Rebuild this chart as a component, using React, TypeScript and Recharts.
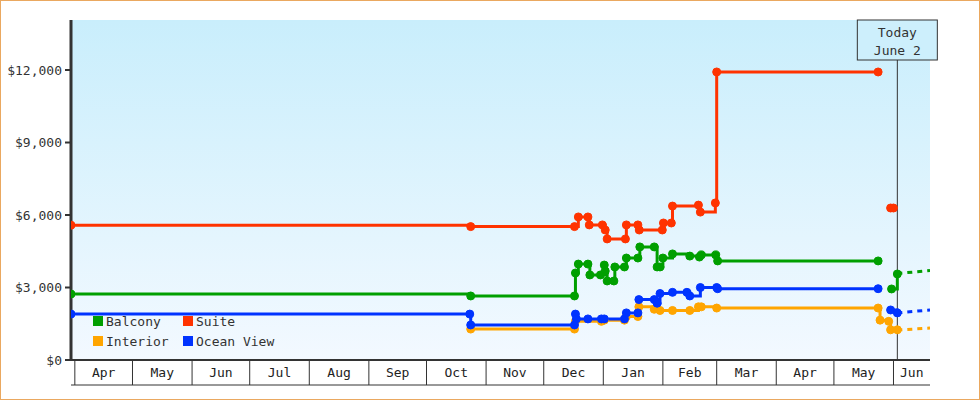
import { CartesianGrid, Legend, Line, LineChart, ReferenceLine, XAxis, YAxis } from "recharts";

// days counted from April 1st
const monthStarts = [0, 30, 61, 91, 122, 153, 183, 214, 244, 275, 306, 334, 365, 395, 426];
const monthLabels = ["Apr", "May", "Jun", "Jul", "Aug", "Sep", "Oct", "Nov", "Dec", "Jan", "Feb", "Mar", "Apr", "May", "Jun"];
const firstDay = -2;
const lastDay = 445;
const todayDay = 428;
const priceTicks = [0, 3000, 6000, 9000, 12000];

const balconyDays = [-2, 206, 260, 260.5, 262, 267, 268, 273.5, 275.5, 276, 277, 280.5, 281, 286, 287, 293, 294, 301.5, 303, 304.5, 306, 311, 320, 325, 326, 333.5, 334.5, 418, 421, 425, 428];
const balconyPrices = [2730, 2650, 2650, 3600, 3970, 3970, 3520, 3520, 3930, 3680, 3270, 3270, 3850, 3850, 4220, 4220, 4680, 4680, 3850, 3850, 4220, 4390, 4300, 4260, 4350, 4350, 4100, 4100, null, 2940, 3560];

const suiteDays = [-2, 206, 260, 262, 267, 267.7, 274.5, 276, 277, 286.5, 287, 293, 293.7, 305.7, 306.3, 310.4, 311, 324.5, 325.5, 333.3, 334, 418, 421, 424.5, 426];
const suitePrices = [5580, 5520, 5520, 5920, 5920, 5590, 5590, 5380, 5010, 5010, 5590, 5590, 5380, 5380, 5670, 5670, 6370, 6410, 6120, 6500, 11920, 11920, null, 6290, 6290];

const interiorDays = [206, 260, 260.5, 274, 275.5, 286, 287, 293, 293.5, 301.5, 304.5, 311, 320, 324.5, 326, 334, 418, 419, 423.5, 424.5, 428];
const interiorPrices = [1280, 1280, 1600, 1600, 1650, 1650, 1800, 1800, 2200, 2100, 2050, 2050, 2050, 2200, 2200, 2150, 2150, 1650, 1600, 1250, 1250];

const oceanDays = [-2, 205.5, 206, 260, 260.5, 261, 267, 274, 275.5, 286, 287, 293, 293.5, 301.5, 303, 304.5, 311, 318.5, 320, 325.5, 334, 334.5, 418, 421, 424.5, 428];
const oceanPrices = [1900, 1900, 1450, 1450, 1900, 1700, 1700, 1700, 1700, 1700, 1950, 1950, 2500, 2500, 2350, 2750, 2800, 2800, 2650, 3000, 3000, 2950, 2950, null, 2070, 1950];

// projected prices after today
const aheadDays = [428, 445];
const balconyAhead = [3580, 3700];
const interiorAhead = [1240, 1320];
const oceanAhead = [1950, 2070];

const zip = (days: number[], prices: (number | null)[]) =>
  days.map((day, i) => ({ day, price: prices[i] }));

const monthMids = monthStarts.map((s, i) => (s + (monthStarts[i + 1] ?? lastDay)) / 2);

const font = "'DejaVu Sans Mono', monospace";

const MonthTick = (props: any) => {
  const { x, y, index } = props;
  return (
    <text x={x} y={y - 8} textAnchor="middle" fontFamily={font} fontSize={13} fill="#222">
      {monthLabels[index]}
    </text>
  );
};

const EmptyTick = () => <g />;

const TodayLabel = (props: any) => {
  const vb = props.viewBox || {};
  const x = vb.x ?? 0;
  const y = vb.y ?? 0;
  return (
    <g>
      <rect x={x - 40} y={y} width={80} height={40} fill="#cdeffc" stroke="#333" />
      <text x={x} y={y + 17} textAnchor="middle" fontFamily={font} fontSize={13} fill="#333">
        Today
      </text>
      <text x={x} y={y + 35} textAnchor="middle" fontFamily={font} fontSize={13} fill="#333">
        June 2
      </text>
    </g>
  );
};

const series = [
  { name: "Balcony", color: "#009f00", data: zip(balconyDays, balconyPrices) },
  { name: "Suite", color: "#ff3300", data: zip(suiteDays, suitePrices) },
  { name: "Interior", color: "#ffa500", data: zip(interiorDays, interiorPrices) },
  { name: "Ocean View", color: "#0033ff", data: zip(oceanDays, oceanPrices) },
];

const ahead = [
  { name: "Balcony ahead", color: "#009f00", data: zip(aheadDays, balconyAhead) },
  { name: "Interior ahead", color: "#ffa500", data: zip(aheadDays, interiorAhead) },
  { name: "Ocean View ahead", color: "#0033ff", data: zip(aheadDays, oceanAhead) },
];

const seriesNames = series.map((s) => s.name);

const LegendBox = ({ payload }: any) => {
  const items = (payload || [])
    .filter((p: any) => seriesNames.includes(p.value))
    .sort((a: any, b: any) => seriesNames.indexOf(a.value) - seriesNames.indexOf(b.value));
  return (
    <div style={{ display: "grid", gridTemplateColumns: "90px 110px", rowGap: 6 }}>
      {items.map((p: any) => (
        <div key={p.value} style={{ display: "flex", alignItems: "center", height: 14 }}>
          <span style={{ width: 10, height: 10, background: p.color, marginRight: 3 }} />
          <span style={{ fontFamily: font, fontSize: 13, color: "#333" }}>{p.value}</span>
        </div>
      ))}
    </div>
  );
};

export default function App() {
  return (
    <div
      style={{
        position: "absolute",
        left: 0,
        top: 0,
        width: 980,
        height: 400,
        boxSizing: "border-box",
        border: "1px solid #eaa860",
        background: "#fff",
      }}
    >
      <div style={{ position: "absolute", left: -1, top: -1 }}>
        <LineChart width={980} height={400} margin={{ top: 20, right: 50, bottom: 0, left: 0 }}>
          <defs>
            <linearGradient id="plotBg" x1="0" y1="0" x2="0" y2="1">
              <stop offset="0%" stopColor="#c9eefc" />
              <stop offset="100%" stopColor="#f3f9ff" />
            </linearGradient>
          </defs>
          <CartesianGrid horizontal={false} vertical={false} fill="url(#plotBg)" />
          <XAxis
            xAxisId="b"
            dataKey="day"
            type="number"
            domain={[firstDay, lastDay]}
            allowDataOverflow
            ticks={monthStarts}
            interval={0}
            height={25}
            tickSize={25}
            tick={<EmptyTick />}
            tickLine={{ stroke: "#333", strokeWidth: 1 }}
            axisLine={{ stroke: "#333", strokeWidth: 2 }}
          />
          <XAxis
            xAxisId="m"
            dataKey="day"
            type="number"
            domain={[firstDay, lastDay]}
            allowDataOverflow
            ticks={monthMids}
            interval={0}
            height={15}
            tickSize={0}
            tickMargin={0}
            tickLine={false}
            tick={<MonthTick />}
            axisLine={{ stroke: "#333", strokeWidth: 1 }}
          />
          <YAxis
            type="number"
            domain={[0, 14070]}
            allowDataOverflow
            ticks={priceTicks}
            width={71}
            tickSize={6}
            tickMargin={3}
            tickFormatter={(v: number) => `$${v.toLocaleString("en-US")}`}
            tick={{ fontFamily: font, fontSize: 13, fill: "#333" }}
            tickLine={{ stroke: "#333", strokeWidth: 2 }}
            axisLine={{ stroke: "#333", strokeWidth: 3 }}
          />
          <Legend
            layout="horizontal"
            verticalAlign="middle"
            align="center"
            content={<LegendBox />}
            wrapperStyle={{ position: "absolute", left: 93, top: 314, width: 220 }}
          />
          <ReferenceLine xAxisId="b" x={todayDay} stroke="#333" strokeWidth={1} label={<TodayLabel />} />
          {ahead.map((s) => (
            <Line
              key={s.name}
              xAxisId="b"
              data={s.data}
              dataKey="price"
              name={s.name}
              type="linear"
              stroke={s.color}
              strokeWidth={3}
              strokeDasharray="5 5"
              dot={false}
              activeDot={false}
              legendType="none"
              isAnimationActive={false}
            />
          ))}
          {series.map((s) => (
            <Line
              key={s.name}
              xAxisId="b"
              data={s.data}
              dataKey="price"
              name={s.name}
              type="stepAfter"
              stroke={s.color}
              strokeWidth={3}
              dot={{ r: 4, fill: s.color, stroke: s.color, strokeWidth: 1 }}
              activeDot={false}
              isAnimationActive={false}
            />
          ))}
        </LineChart>
      </div>
    </div>
  );
}
